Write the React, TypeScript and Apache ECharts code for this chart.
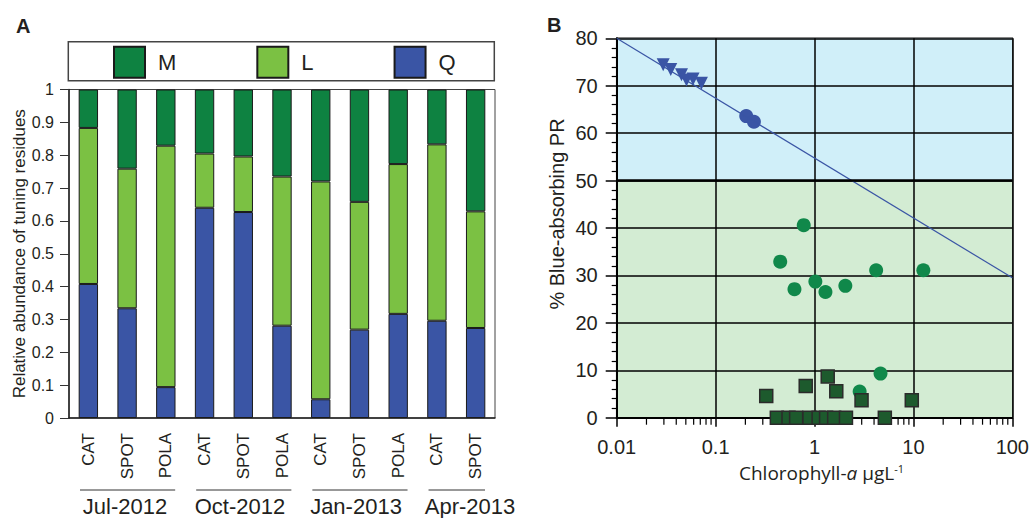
import React, { useEffect, useRef } from "react";
import * as echarts from "echarts";

// ---------- Panel A data ----------
const CATEGORIES = ["CAT", "SPOT", "POLA", "CAT", "SPOT", "POLA", "CAT", "SPOT", "POLA", "CAT", "SPOT"];
const Q_VALUES = [0.408, 0.334, 0.094, 0.64, 0.627, 0.281, 0.057, 0.269, 0.317, 0.296, 0.274];
const L_VALUES = [0.475, 0.425, 0.735, 0.165, 0.169, 0.454, 0.663, 0.389, 0.456, 0.537, 0.355];
const M_VALUES = [0.117, 0.241, 0.171, 0.195, 0.204, 0.265, 0.28, 0.342, 0.227, 0.167, 0.371];
const GROUPS = ["Jul-2012", "Oct-2012", "Jan-2013", "Apr-2013"];
const GROUP_SIZES = [3, 3, 3, 2];

// ---------- Panel B data ----------
const TRIANGLES = [
  [0.0295, 74.4], [0.0352, 73.4], [0.0452, 72.3], [0.0508, 71.2], [0.0592, 71.4], [0.0719, 70.5],
];
const BLUE_CIRCLES = [[0.204, 63.6], [0.244, 62.4]];
const GREEN_CIRCLES = [
  [0.778, 40.6], [0.45, 32.9], [1.02, 28.7], [0.627, 27.1], [1.29, 26.5],
  [2.05, 27.8], [4.2, 31.1], [12.6, 31.1], [4.65, 9.3], [2.86, 5.5],
];
const SQUARES = [
  [0.325, 4.6], [0.815, 6.7], [1.36, 8.7], [1.66, 5.6], [2.99, 3.7], [9.63, 3.7],
  [0.416, 0], [0.546, 0], [0.652, 0], [0.889, 0], [1.1, 0], [1.31, 0], [1.58, 0], [2.08, 0], [5.14, 0],
];
const FIT_LINE = [[0.01, 80], [100, 29.5]];
const X_TICKS_B = ["0.01", "0.1", "1", "10", "100"];
const DECADES = [0.01, 0.1, 1, 10];
const MINOR_MULTS = [2, 3, 4, 5, 6, 7, 8, 9];

const C_M = "#0e8241";
const C_L = "#7bc143";
const C_Q = "#3a55a5";
const C_GREEN_DOT = "#10884a";
const C_SQUARE = "#1d5a2d";
const TXT = "#231f20";

// layout
const A_LEFT = 69, A_TOP = 89.5, A_W = 426, A_H = 328.5;
const B_LEFT = 616.7, B_TOP = 38.3, B_W = 396.6, B_H = 379.4;

export default function App() {
  const ref = useRef<HTMLDivElement>(null);

  useEffect(() => {
    if (!ref.current) return;
    const chart = echarts.init(ref.current, null, { renderer: "svg" });

    const minorTicks: number[][] = [];
    DECADES.forEach((d) => MINOR_MULTS.forEach((m) => minorTicks.push([d * m, 0])));

    const barStyle = (c: string) => ({ color: c, borderColor: "#1a1a1a", borderWidth: 1 });

    // group underline + labels for panel A
    const catW = A_W / CATEGORIES.length;
    const graphics: any[] = [];
    let start = 0;
    const groupTextCenters = [125, 240, 356, 470];
    GROUPS.forEach((g, i) => {
      const x0 = A_LEFT + start * catW;
      const x1 = A_LEFT + (start + GROUP_SIZES[i]) * catW;
      graphics.push({
        type: "line",
        shape: { x1: x0 + 11, y1: 490, x2: x1 - 10, y2: 490 },
        style: { stroke: "#333", lineWidth: 1 },
      });
      graphics.push({
        type: "text",
        x: groupTextCenters[i],
        y: 506,
        style: {
          text: g,
          fill: TXT,
          font: "22px 'Liberation Sans', Arial, sans-serif",
          align: "center",
          verticalAlign: "middle",
        },
      });
      start += GROUP_SIZES[i];
    });

    graphics.push({
      type: "rect",
      z: -1,
      shape: { x: 68.3, y: 41.7, width: 426, height: 39 },
      style: { fill: "#fff", stroke: "#444", lineWidth: 1.5 },
    });
    graphics.push({
      type: "text",
      x: 16,
      y: 16,
      style: { text: "A", fill: TXT, font: "bold 20px 'Liberation Sans', Arial, sans-serif" },
    });
    graphics.push({
      type: "text",
      x: 547,
      y: 15,
      style: { text: "B", fill: TXT, font: "bold 20px 'Liberation Sans', Arial, sans-serif" },
    });

    const option: any = {
      animation: false,
      backgroundColor: "#fff",
      textStyle: { fontFamily: "'Liberation Sans', Arial, sans-serif", color: TXT },
      graphic: graphics,
      legend: {
        data: ["M", "L", "Q"],
        left: 113,
        top: 45.7,
        padding: 0,
        itemWidth: 31,
        itemHeight: 31,
        itemGap: 80,
        icon: "rect",
        textStyle: { fontSize: 22, color: TXT, padding: [0, 0, 0, 8] },
        selectedMode: false,
      },
      grid: [
        {
          left: A_LEFT, top: A_TOP, width: A_W, height: A_H,
          show: true, borderColor: "#444", borderWidth: 1, backgroundColor: "transparent",
        },
        {
          left: B_LEFT, top: B_TOP, width: B_W, height: B_H,
          show: true, borderColor: "#111", borderWidth: 1.5, backgroundColor: "transparent",
        },
      ],
      xAxis: [
        {
          gridIndex: 0,
          type: "category",
          data: CATEGORIES,
          axisLine: { lineStyle: { color: "#222", width: 1.5 } },
          axisTick: { length: 9, lineStyle: { color: "#333" } },
          axisLabel: { rotate: 90, fontSize: 17, color: TXT, margin: 15, interval: 0 },
          splitLine: { show: false },
        },
        {
          gridIndex: 1,
          type: "log",
          logBase: 10,
          min: 0.01,
          max: 100,
          axisLine: { onZero: false, lineStyle: { color: "#000", width: 2 } },
          axisTick: { length: 9, lineStyle: { color: "#000", width: 1.5 } },
          axisLabel: {
            fontSize: 20,
            color: TXT,
            margin: 19,
            formatter: (v: number) => {
              const s = String(Number(v.toPrecision(3)));
              return X_TICKS_B.includes(s) ? s : "";
            },
          },
          splitLine: { show: true, lineStyle: { color: "#000", width: 1.5 } },
          name: "Chlorophyll-{i|a} μgL{sup|-1}",
          nameLocation: "middle",
          nameGap: 45,
          nameTextStyle: {
            fontFamily: "'Open Sans', sans-serif",
            fontSize: 19,
            color: TXT,
            padding: [0, 0, 0, 14],
            rich: {
              i: { fontStyle: "italic", fontFamily: "'Open Sans', sans-serif", fontSize: 19, color: TXT },
              sup: { fontFamily: "'Open Sans', sans-serif", fontSize: 11, color: TXT, padding: [0, 0, 9, 0] },
            },
          },
        },
      ],
      yAxis: [
        {
          gridIndex: 0,
          type: "value",
          min: 0,
          max: 1,
          interval: 0.1,
          axisLine: { show: true, lineStyle: { color: "#222", width: 1.5 } },
          axisTick: { show: true, length: 9, lineStyle: { color: "#333" } },
          axisLabel: {
            fontSize: 16,
            color: TXT,
            margin: 15,
            formatter: (v: number) => (v === 0 ? "0" : v >= 0.999 ? "1" : v.toFixed(1)),
          },
          splitLine: { show: false },
          name: "Relative abundance of tuning residues",
          nameLocation: "middle",
          nameGap: 34,
          nameTextStyle: { fontSize: 17, color: TXT },
        },
        {
          gridIndex: 1,
          type: "value",
          min: 0,
          max: 80,
          interval: 10,
          axisLine: { show: true, lineStyle: { color: "#000", width: 2 } },
          axisTick: { show: true, length: 11, lineStyle: { color: "#000", width: 1.5 } },
          minorTick: { show: true, splitNumber: 5, length: 5, lineStyle: { color: "#000", width: 1.2 } },
          axisLabel: { fontSize: 20, color: TXT, margin: 19 },
          splitLine: { show: true, lineStyle: { color: "#000", width: 1.5 } },
          splitArea: {
            show: true,
            areaStyle: {
              color: ["#d3ecd3", "#d3ecd3", "#d3ecd3", "#d3ecd3", "#d3ecd3", "#d0eff9", "#d0eff9", "#d0eff9"],
            },
          },
          name: "% Blue-absorbing PR",
          nameLocation: "middle",
          nameGap: 50,
          nameTextStyle: { fontSize: 20, color: TXT, padding: [0, 0, 0, 28] },
        },
      ],
      series: [
        {
          name: "Q", type: "bar", stack: "a", xAxisIndex: 0, yAxisIndex: 0,
          data: Q_VALUES, barWidth: "50%", itemStyle: barStyle(C_Q),
        },
        {
          name: "L", type: "bar", stack: "a", xAxisIndex: 0, yAxisIndex: 0,
          data: L_VALUES, barWidth: "50%", itemStyle: barStyle(C_L),
        },
        {
          name: "M", type: "bar", stack: "a", xAxisIndex: 0, yAxisIndex: 0,
          data: M_VALUES, barWidth: "50%", itemStyle: barStyle(C_M),
        },
        {
          name: "fit", type: "line", xAxisIndex: 1, yAxisIndex: 1,
          data: FIT_LINE, showSymbol: false, symbol: "none",
          lineStyle: { color: C_Q, width: 1.2 },
          markLine: {
            silent: true, symbol: "none", label: { show: false },
            lineStyle: { color: "#000", width: 2.5, type: "solid" },
            data: [{ yAxis: 50 }],
          },
        },
        {
          name: "minorTicks", type: "scatter", xAxisIndex: 1, yAxisIndex: 1,
          silent: true, clip: false, z: 1,
          data: minorTicks,
          symbol: "rect", symbolSize: [1.2, 6], symbolOffset: [0, 4],
          itemStyle: { color: "#000", opacity: 1 },
        },
        {
          name: "tri", type: "scatter", xAxisIndex: 1, yAxisIndex: 1,
          data: TRIANGLES, symbol: "triangle", symbolRotate: 180, symbolSize: 13,
          itemStyle: { color: C_Q, opacity: 1 },
        },
        {
          name: "blueCircle", type: "scatter", xAxisIndex: 1, yAxisIndex: 1,
          data: BLUE_CIRCLES, symbol: "circle", symbolSize: 14,
          itemStyle: { color: C_Q, opacity: 1 },
        },
        {
          name: "greenCircle", type: "scatter", xAxisIndex: 1, yAxisIndex: 1,
          data: GREEN_CIRCLES, symbol: "circle", symbolSize: 14,
          itemStyle: { color: C_GREEN_DOT, opacity: 1 },
        },
        {
          name: "square", type: "scatter", xAxisIndex: 1, yAxisIndex: 1,
          data: SQUARES, symbol: "rect", symbolSize: 13, clip: false, z: 3,
          itemStyle: { color: C_SQUARE, borderColor: "#2b2b2b", borderWidth: 1.5, opacity: 1 },
        },
      ],
    };

    chart.setOption(option);
    return () => chart.dispose();
  }, []);

  return (
    <div
      ref={ref}
      style={{ position: "fixed", left: 0, top: 0, width: 1032, height: 518, background: "#fff" }}
    />
  );
}
